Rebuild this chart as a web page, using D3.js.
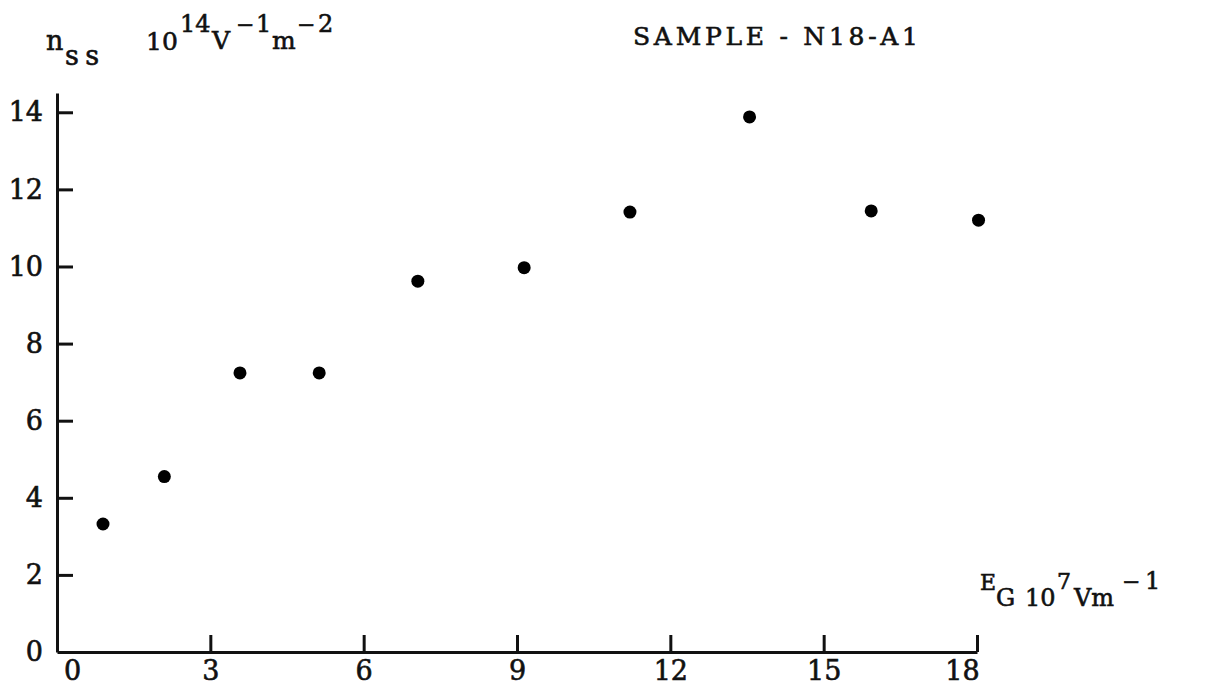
<!DOCTYPE html>
<html>
<head>
<meta charset="utf-8">
<script src="https://cdn.jsdelivr.net/npm/d3@7"></script>
<style>
  body { margin: 0; background: #fff; }
  svg { display: block; }
  text { font-family: "DejaVu Serif", serif; fill: #111; stroke: #111; stroke-width: 0.6px; }
</style>
</head>
<body>
<svg id="chart" width="1215" height="690"></svg>
<script>
// field E_G (10^7 V/m) and surface state density n_ss (10^14 V^-1 m^-2)
var field = [0.90, 2.10, 3.58, 5.13, 7.06, 9.14, 11.21, 13.55, 15.93, 18.03];
var nss   = [3.32, 4.55, 7.24, 7.24, 9.62, 9.97, 11.41, 13.88, 11.44, 11.20];
var xTicks = [0, 3, 6, 9, 12, 15, 18];
var yTicks = [0, 2, 4, 6, 8, 10, 12, 14];

var svg = d3.select("#chart");

var x = d3.scaleLinear().domain([0, 18]).range([57, 977]);
var y = d3.scaleLinear().domain([0, 14.5]).range([652, 93]);

var xAxis = svg.append("g")
  .attr("transform", "translate(0," + y(0) + ")")
  .call(d3.axisBottom(x).tickValues(xTicks).tickSizeInner(-17).tickSizeOuter(0).tickPadding(9));

var yAxis = svg.append("g")
  .attr("transform", "translate(" + x(0) + ",0)")
  .call(d3.axisLeft(y).tickValues(yTicks).tickSizeInner(-16).tickSizeOuter(0).tickPadding(14));

[xAxis, yAxis].forEach(function(g){
  g.select(".domain").attr("stroke", "#111").attr("stroke-width", 3);
  g.selectAll(".tick line").attr("stroke", "#111").attr("stroke-width", 3)
    .filter(function(d){ return d === 0; }).remove();
  g.selectAll(".tick text").attr("font-size", 27).attr("fill", "#111");
});
// hand-typed end labels sit a little inside the ends
xAxis.selectAll(".tick text").attr("dx", function(d){
  return d === 0 ? 15 : (d === 18 ? -15 : 0);
});

svg.append("g").selectAll("circle")
  .data(field)
  .enter()
  .append("circle")
  .attr("cx", function(d){ return x(d); })
  .attr("cy", function(d, i){ return y(nss[i]); })
  .attr("r", 6.5)
  .attr("fill", "#000");

// typed labels: [text, x, baseline, size, width]
function typed(parts) {
  parts.forEach(function(p){
    var t = svg.append("text")
      .attr("x", p[1]).attr("y", p[2])
      .attr("font-size", p[3])
      .text(p[0]);
    if (p[4]) t.attr("textLength", p[4]).attr("lengthAdjust", "spacing");
  });
}

// y axis label
typed([
  ["n", 46, 50, 27],
  ["ss", 65, 65, 27, 34],
  ["10", 146, 50, 25],
  ["14", 180, 32, 24],
  ["V", 212, 49, 25],
  ["\u2212", 236, 32, 22],
  ["1", 256, 32, 24],
  ["m", 272, 49, 25],
  ["\u2212", 297, 32, 22],
  ["2", 318, 32, 24]
]);

// title
typed([["SAMPLE - N18-A1", 633, 45, 25, 285]]);

// x axis label
typed([
  ["E", 980, 590, 22],
  ["G", 996, 606, 24],
  ["10", 1025, 606, 24],
  ["7", 1057, 589, 22],
  ["Vm", 1074, 606, 24],
  ["\u2212", 1122, 589, 22],
  ["1", 1145, 589, 24]
]);
</script>
</body>
</html>
